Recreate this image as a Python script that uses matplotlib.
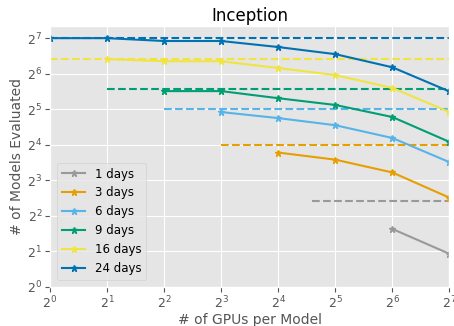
import numpy as np
import matplotlib
matplotlib.use('Agg')
import matplotlib.pyplot as plt

plt.style.use('ggplot')

# days budget -> (gpu exponents, log2 models evaluated), dashed ideal line
labels = ['1 days', '3 days', '6 days', '9 days', '16 days', '24 days']
colors = ['#999999', '#E69F00', '#56B4E9', '#009E73', '#F0E442', '#0072B2']

x_1 = [6, 7]
y_1 = [1.63, 0.93]
x_3 = [4, 5, 6, 7]
y_3 = [3.78, 3.58, 3.22, 2.51]
x_6 = [3, 4, 5, 6, 7]
y_6 = [4.92, 4.75, 4.55, 4.19, 3.51]
x_9 = [2, 3, 4, 5, 6, 7]
y_9 = [5.51, 5.51, 5.31, 5.12, 4.78, 4.08]
x_16 = [1, 2, 3, 4, 5, 6, 7]
y_16 = [6.41, 6.35, 6.35, 6.16, 5.96, 5.6, 4.92]
x_24 = [0, 1, 2, 3, 4, 5, 6, 7]
y_24 = [7, 7, 6.92, 6.92, 6.75, 6.55, 6.18, 5.5]

# dashed reference lines: (start exponent, level exponent)
dash_start = [4.6, 3, 2, 1, 0, 0]
dash_level = [2.42, 4.0, 5.0, 5.57, 6.41, 7.0]

xs = [x_1, x_3, x_6, x_9, x_16, x_24]
ys = [y_1, y_3, y_6, y_9, y_16, y_24]

fig, ax = plt.subplots(figsize=(4.54, 3.26), dpi=100)

for i in range(len(labels)):
    gx = 2.0 ** np.array(xs[i])
    gy = 2.0 ** np.array(ys[i])
    ax.plot(gx, gy, '-', marker='*', color=colors[i], label=labels[i],
            markersize=5, linewidth=1.5)
    ax.plot([2.0 ** dash_start[i], 2.0 ** 7], [2.0 ** dash_level[i]] * 2,
            '--', color=colors[i], linewidth=1.5)

ax.set_xscale('log', base=2)
ax.set_yscale('log', base=2)
ax.set_xlim(1, 2 ** 7)
ax.set_ylim(1, 2 ** 7.34)
ax.set_xticks([2.0 ** k for k in range(8)])
ax.set_yticks([2.0 ** k for k in range(8)])
ax.minorticks_off()

ax.set_title('Inception', fontsize=12, pad=4)
ax.set_xlabel('# of GPUs per Model', fontsize=10, labelpad=1)
ax.set_ylabel('# of Models Evaluated', fontsize=10, labelpad=2)
ax.tick_params(labelsize=9, pad=2)
ax.legend(loc='lower left', fontsize=8.5, borderaxespad=0.6)

fig.subplots_adjust(left=0.11, right=0.99, top=0.92, bottom=0.12)
fig.savefig('out.png', dpi=100)
